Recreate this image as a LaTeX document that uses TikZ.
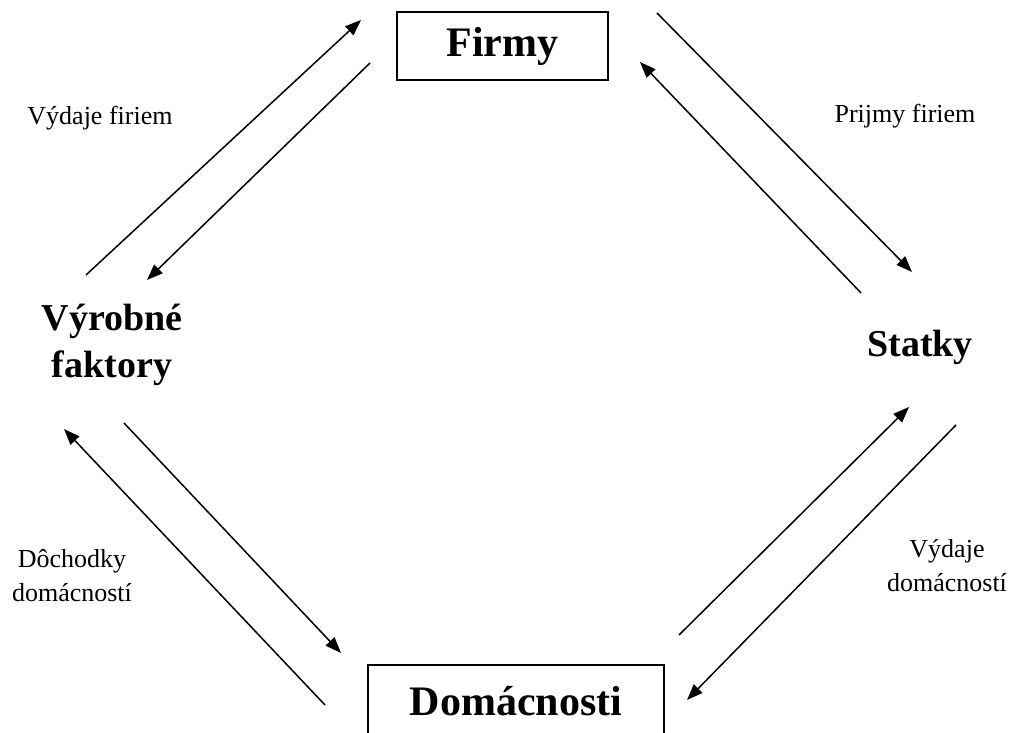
\documentclass[tikz,border=0pt]{standalone}
\usepackage{fontspec}
\setmainfont{Liberation Serif}
\usetikzlibrary{arrows.meta}
\begin{document}
\begin{tikzpicture}[x=1pt,y=1pt,
  flow/.style={line width=1.5pt,-{Triangle[length=16pt,width=12pt]}},
  mainbox/.style={draw,line width=1.6pt,inner sep=0pt,font=\fontsize{42}{50}\selectfont\bfseries},
  sector/.style={inner sep=0pt,align=center,font=\fontsize{38}{47}\selectfont\bfseries},
  flowlabel/.style={inner sep=0pt,align=center,font=\fontsize{26}{34}\selectfont}]
\useasboundingbox (0,0) rectangle (1014,733);
\clip (0,0) rectangle (1014,733);
\fill[white] (0,0) rectangle (1014,733);

% main boxes
\node[mainbox,minimum width=211pt,minimum height=68pt] (firmy) at (502.5,687) {Firmy};
\node[mainbox,minimum width=296pt,minimum height=73pt] (domac) at (516,31.5) {Domácnosti};

% sectors
\node[sector] (vyrobne) at (112,388.5) {Výrobné\\faktory};
\node[sector,anchor=base] (statky) at (920,376) {Statky};

% flow labels
\node[flowlabel,anchor=base] (vydfir) at (100,608) {Výdaje firiem};
\node[flowlabel,anchor=base] (prifir) at (905,610) {Prijmy firiem};
\node[flowlabel] (dochod) at (72,157) {Dôchodky\\domácností};
\node[flowlabel] (vyddom) at (947,167.4) {Výdaje\\domácností};

% arrow end points
\coordinate (a1s) at (86,458);  \coordinate (a1e) at (361,713);
\coordinate (a2s) at (370,670); \coordinate (a2e) at (147,453);
\coordinate (a3s) at (657,720); \coordinate (a3e) at (912,461);
\coordinate (a4s) at (861,440); \coordinate (a4e) at (640,671);
\coordinate (a5s) at (679,98);  \coordinate (a5e) at (909,326);
\coordinate (a6s) at (956,308); \coordinate (a6e) at (687,33);
\coordinate (a7s) at (325,28);  \coordinate (a7e) at (64,304);
\coordinate (a8s) at (124,310); \coordinate (a8e) at (341,80);

\draw[flow] (a1s) -- (a1e);
\draw[flow] (a2s) -- (a2e);
\draw[flow] (a3s) -- (a3e);
\draw[flow] (a4s) -- (a4e);
\draw[flow] (a5s) -- (a5e);
\draw[flow] (a6s) -- (a6e);
\draw[flow] (a7s) -- (a7e);
\draw[flow] (a8s) -- (a8e);
\end{tikzpicture}
\end{document}
